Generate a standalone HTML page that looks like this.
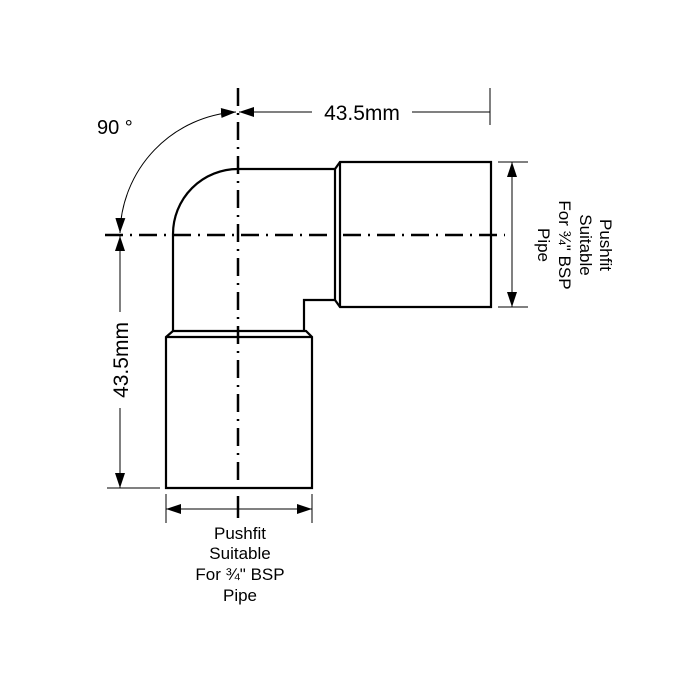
<!DOCTYPE html>
<html><head><style>body{margin:0;background:#fff}svg{display:block}</style></head><body>
<svg width="700" height="700" viewBox="0 0 700 700" xmlns="http://www.w3.org/2000/svg" font-family="Liberation Sans, sans-serif">
<defs>
<marker id="a" markerWidth="15" markerHeight="10" refX="15" refY="5" orient="auto-start-reverse" markerUnits="userSpaceOnUse"><path d="M0,0 L15,5 L0,10 z" fill="#000"/></marker>
</defs>
<g fill="none" stroke="#000" stroke-width="2.2">
<path d="M173,331 L173,234 A65,65 0 0 1 238,169 L335,169"/>
<path d="M335,169 L335,300 L304,300 L304,331"/>
<path d="M335,169 L340,162 L491,162 L491,307 L340,307 L335,300"/>
<line x1="340" y1="162" x2="340" y2="307"/>
<path d="M173,331 L166,337 L166,488 L312,488 L312,337 L306,331 Z"/>
<line x1="166" y1="337" x2="312" y2="337"/>
</g>
<g stroke="#000" stroke-width="2.5" stroke-dasharray="18,7,2,7">
<line x1="105" y1="235" x2="505" y2="235"/>
<line x1="238" y1="88" x2="238" y2="500"/>
</g>
<g stroke="#000" stroke-width="1" fill="none">
<line x1="490" y1="88" x2="490" y2="125"/>
<line x1="239" y1="112" x2="312" y2="112" marker-start="url(#a)"/>
<line x1="412" y1="112" x2="490" y2="112"/>
<path d="M236,112 A124,124 0 0 0 120,233" marker-start="url(#a)" marker-end="url(#a)"/>
<line x1="107" y1="488" x2="160" y2="488"/>
<line x1="120" y1="236" x2="120" y2="312" marker-start="url(#a)"/>
<line x1="120" y1="408" x2="120" y2="488" marker-end="url(#a)"/>
<line x1="498" y1="162" x2="528" y2="162"/>
<line x1="498" y1="307" x2="528" y2="307"/>
<line x1="512" y1="162" x2="512" y2="307" marker-start="url(#a)" marker-end="url(#a)"/>
<line x1="166" y1="494" x2="166" y2="523"/>
<line x1="312" y1="494" x2="312" y2="523"/>
<line x1="166" y1="509" x2="312" y2="509" marker-start="url(#a)" marker-end="url(#a)"/>
</g>
<line x1="238" y1="500" x2="238" y2="518" stroke="#000" stroke-width="2.5"/>
<g fill="#000">
<text x="362" y="120" font-size="21" text-anchor="middle">43.5mm</text>
<text x="97" y="134" font-size="20">90 °</text>
<text transform="translate(128,360) rotate(-90)" font-size="21" text-anchor="middle">43.5mm</text>
<g font-size="17" text-anchor="middle">
<text x="240" y="539">Pushfit</text>
<text x="240" y="559">Suitable</text>
<text x="240" y="580">For ¾" BSP</text>
<text x="240" y="601">Pipe</text>
</g>
<g font-size="17" text-anchor="middle" transform="translate(600,245) rotate(90)">
<text x="0" y="0">Pushfit</text>
<text x="0" y="20">Suitable</text>
<text x="0" y="41">For ¾" BSP</text>
<text x="0" y="62">Pipe</text>
</g>
</g>
</svg>
</body></html>
